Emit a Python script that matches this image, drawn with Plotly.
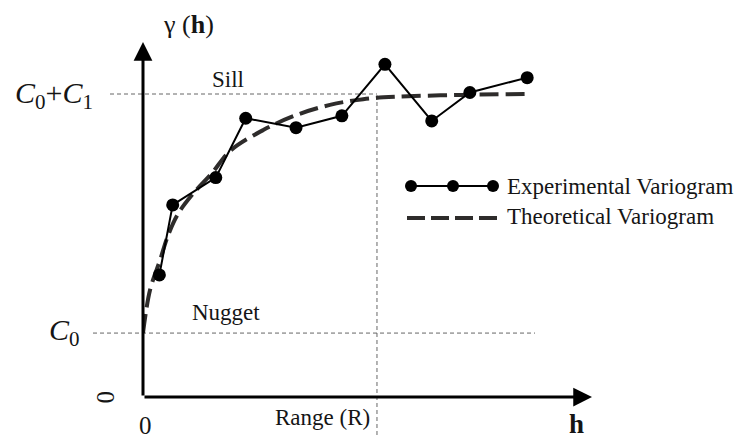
import plotly.graph_objects as go

# ---- data (lag h in units of the range, semivariance in units of the sill) ----
exp_h = [0.07, 0.127, 0.311, 0.439, 0.654, 0.850, 1.034, 1.234, 1.397, 1.642]
exp_gamma = [0.403, 0.634, 0.724, 0.920, 0.889, 0.928, 1.098, 0.911, 1.005, 1.054]

theo_h = [0.0, 0.030, 0.073, 0.108, 0.151, 0.215, 0.294, 0.372, 0.514, 0.657,
          0.799, 0.941, 1.084, 1.369, 1.654]
theo_gamma = [0.211, 0.353, 0.452, 0.535, 0.606, 0.672, 0.738, 0.812, 0.881, 0.931,
              0.964, 0.983, 0.991, 0.997, 1.0]

NUGGET = 0.211   # C0
SILL = 1.0       # C0 + C1
RANGE = 1.0      # R
X_MAX = 1.919
Y_MAX = 1.1716

W, H = 739, 441
ML, MR, MT, MB = 143, 147, 42, 44
PW, PH = W - ML - MR, H - MT - MB


def px(x):
    return (x - ML) / PW


def py(y):
    return (H - MB - y) / PH


TXT = "#151515"
SERIF = "Liberation Serif, Times New Roman, serif"

fig = go.Figure()

fig.add_trace(go.Scatter(
    x=theo_h, y=theo_gamma, mode="lines", line_shape="spline",
    line=dict(color="#2e2c2b", width=4, dash="19px,7px"),
    name="Theoretical Variogram", showlegend=False, hoverinfo="skip"))

fig.add_trace(go.Scatter(
    x=exp_h, y=exp_gamma, mode="lines+markers",
    line=dict(color="black", width=2),
    marker=dict(color="black", size=13),
    name="Experimental Variogram", showlegend=False))

shapes = []
guide = dict(color="#666666", width=1, dash="4px,3px")
# sill line
shapes.append(dict(type="line", xref="paper", yref="y", x0=px(110), x1=RANGE / X_MAX,
                   y0=SILL, y1=SILL, line=guide, layer="below"))
# nugget line
shapes.append(dict(type="line", xref="paper", yref="y", x0=px(93), x1=px(535),
                   y0=NUGGET, y1=NUGGET, line=guide, layer="below"))
# range line
shapes.append(dict(type="line", xref="x", yref="paper", x0=RANGE, x1=RANGE,
                   y0=py(435), y1=SILL / Y_MAX, line=guide, layer="below"))

# legend keys
shapes.append(dict(type="line", xref="paper", yref="paper", x0=px(411), x1=px(493),
                   y0=py(186), y1=py(186), line=dict(color="black", width=2)))
for cx in (411, 453, 493):
    shapes.append(dict(type="circle", xref="paper", yref="paper",
                       x0=px(cx - 6), x1=px(cx + 6), y0=py(186 + 6), y1=py(186 - 6),
                       fillcolor="black", line=dict(color="black", width=0)))
shapes.append(dict(type="line", xref="paper", yref="paper", x0=px(407), x1=px(497),
                   y0=py(218), y1=py(218),
                   line=dict(color="#2e2c2b", width=4, dash="18px,6px")))

annotations = []
# axes arrows
for (x, y) in [(X_MAX, 0), (0, Y_MAX)]:
    annotations.append(dict(x=x, y=y, ax=0, ay=0, xref="x", yref="y", axref="x", ayref="y",
                            text="", showarrow=True, arrowhead=2, arrowsize=1.25,
                            arrowwidth=3, arrowcolor="black"))


def label(text, x, y, size, xanchor="center", angle=0, yanchor="middle"):
    annotations.append(dict(text=text, x=px(x), y=py(y), xref="paper", yref="paper",
                            showarrow=False, xanchor=xanchor, yanchor=yanchor,
                            textangle=angle, font=dict(family=SERIF, size=size, color=TXT)))


label("γ (<b>h</b>)", 188, 24, 26)
label("<i>C</i><sub>0</sub>+<i>C</i><sub>1</sub>", 54, 95, 30)
label("<i>C</i><sub>0</sub>", 64, 332, 30)
label("Sill", 228, 79, 23)
label("Nugget", 226, 312, 23)
label("Range (R)", 322, 417, 23)
label("0", 106, 397, 25, angle=90)
label("0", 145, 441, 25, yanchor="bottom")
label("<b>h</b>", 576, 441, 27, yanchor="bottom")
label("Experimental Variogram", 505, 186, 23, xanchor="left")
label("Theoretical Variogram", 505, 216, 23, xanchor="left")

fig.update_layout(
    width=W, height=H, margin=dict(l=ML, r=MR, t=MT, b=MB, pad=0),
    paper_bgcolor="white", plot_bgcolor="white",
    xaxis=dict(range=[0, X_MAX], visible=False, fixedrange=True),
    yaxis=dict(range=[0, Y_MAX], visible=False, fixedrange=True),
    shapes=shapes, annotations=annotations, showlegend=False,
)

fig.write_html("out.html")
